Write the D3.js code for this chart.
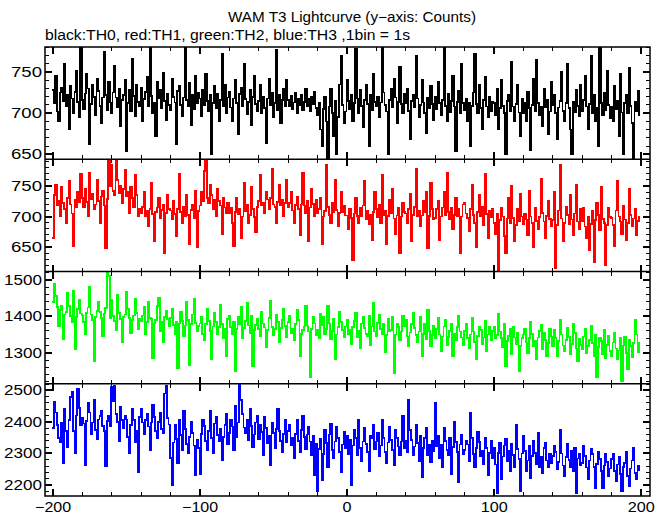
<!DOCTYPE html>
<html><head><meta charset="utf-8">
<script src="https://cdn.jsdelivr.net/npm/d3@7"></script>
<style>body{margin:0;background:#fff}svg{display:block}text{font-family:"Liberation Sans",Arial,Helvetica,sans-serif;fill:#000}</style>
</head><body><svg id="c" width="669" height="515"></svg>
<script>
// ---------- data (1 bin = 1 s, first bin at t = -200 s) ----------
const binStart = -200;
const binSize = 1;

const th0 = [
728,712,745,702,690,725,731,715,760,708,722,680,733,718,700,726,752,714,695,781,
716,705,724,748,730,662,711,735,720,698,742,727,709,688,719,775,722,704,738,713,
700,725,758,719,707,730,684,716,722,740,654,712,729,703,766,721,697,735,714,708,
731,690,717,726,744,709,785,721,700,713,672,738,718,728,706,749,715,692,724,710,
704,742,720,713,662,727,733,710,697,719,780,716,708,737,686,722,705,746,712,725,
718,696,728,710,748,715,703,722,650,712,733,706,724,690,716,772,709,735,700,719,
726,707,690,718,740,712,675,723,731,709,760,717,699,714,728,685,720,745,711,702,
715,734,700,720,706,664,718,742,710,725,695,712,777,704,722,688,716,730,708,740,
716,709,721,705,713,725,700,718,710,722,704,714,730,708,717,702,720,711,726,706,
698,712,680,660,705,720,690,645,708,730,700,672,715,650,695,735,770,710,688,702,
740,715,705,722,690,712,778,718,700,728,709,683,716,735,711,660,722,704,748,714,
708,720,695,713,785,725,710,702,650,716,730,707,742,719,688,714,756,711,700,724,
712,730,703,668,715,722,707,770,718,695,710,740,713,700,676,719,706,733,711,692,
720,705,738,712,698,716,785,709,690,723,701,715,746,708,654,714,727,700,760,712,
704,718,690,712,660,709,725,772,711,700,735,706,680,716,744,708,695,720,703,714,
712,698,730,680,706,740,709,700,650,715,722,703,762,708,690,711,735,701,672,718,
700,713,690,726,706,655,710,742,703,765,712,698,708,684,730,707,716,675,702,738,
710,722,700,668,707,715,750,703,690,712,760,706,680,650,714,701,728,709,696,735,
703,716,745,708,680,711,770,700,722,690,706,660,780,712,698,725,704,752,710,694,
708,690,733,705,715,672,748,701,650,712,722,700,755,709,688,645,714,703,727,698];

const th1 = [
665,735,752,718,726,700,748,722,712,690,730,758,720,705,652,727,715,740,723,770,
730,716,745,724,700,772,728,738,712,720,760,725,690,733,742,718,648,729,792,750,
785,742,735,792,760,738,750,722,745,776,733,740,705,748,730,715,768,735,700,712,
705,716,740,700,710,685,712,755,704,660,708,715,730,698,711,720,640,706,736,712,
710,695,725,704,668,712,770,707,690,716,700,735,703,655,711,720,698,742,650,709,
718,740,725,775,792,730,722,752,735,712,728,700,745,726,718,672,730,715,706,722,
706,715,690,652,708,730,704,712,665,700,755,709,720,690,703,748,712,699,675,716,
725,768,718,722,706,740,728,712,730,778,720,716,690,724,752,719,727,700,722,760,
716,722,740,710,690,719,732,713,670,720,772,718,706,725,660,715,745,721,700,728,
705,712,730,655,700,709,785,716,703,690,722,707,760,711,685,706,740,708,718,702,
702,680,712,698,628,705,730,701,690,714,700,718,758,696,710,688,703,662,708,740,
712,699,720,690,768,703,710,655,701,728,706,745,697,672,702,715,640,700,722,708,
705,690,712,738,660,703,716,778,700,710,685,702,725,708,740,648,701,755,712,696,
698,712,725,662,700,715,740,703,772,708,696,715,680,703,730,701,712,640,700,720,
722,705,698,676,712,752,703,690,650,708,735,700,716,686,770,704,665,710,699,712,
690,672,705,612,694,715,700,668,640,697,730,690,750,698,660,686,712,693,738,700,
688,705,695,670,742,700,690,650,715,693,680,699,762,706,692,665,701,725,696,684,
694,740,615,686,710,785,697,660,690,716,703,688,735,695,670,705,752,692,680,712,
692,715,684,665,700,645,688,710,625,694,722,703,678,748,696,690,620,686,715,699,
698,686,652,710,758,700,692,672,718,695,662,690,745,703,684,697,712,670,693,700];

const th2 = [
1440,1490,1455,1425,1372,1418,1430,1338,1405,1412,1465,1428,1400,1383,1470,1310,1398,1420,1445,1408,
1402,1385,1352,1410,1424,1480,1405,1390,1278,1398,1415,1440,1412,1396,1345,1408,1422,1522,1510,1395,
1445,1400,1388,1362,1460,1410,1392,1330,1398,1405,1468,1420,1396,1355,1390,1402,1448,1410,1365,1394,
1388,1402,1425,1350,1384,1440,1395,1392,1285,1380,1390,1428,1452,1360,1386,1330,1398,1415,1393,1372,
1395,1420,1376,1352,1385,1258,1380,1412,1388,1345,1375,1440,1390,1265,1378,1405,1448,1382,1360,1374,
1380,1398,1352,1335,1378,1420,1388,1360,1282,1372,1410,1385,1350,1370,1432,1378,1340,1366,1290,1392,
1400,1370,1352,1384,1250,1365,1398,1378,1425,1340,1368,1388,1438,1375,1355,1402,1262,1362,1376,1392,
1365,1345,1412,1380,1369,1315,1362,1395,1442,1370,1348,1366,1405,1385,1330,1368,1390,1420,1374,1342,
1385,1402,1355,1366,1335,1378,1418,1390,1292,1352,1362,1372,1428,1375,1358,1232,1365,1398,1380,1348,
1362,1340,1408,1376,1398,1352,1366,1428,1380,1338,1360,1392,1282,1350,1370,1412,1385,1363,1342,1372,
1390,1350,1362,1325,1370,1388,1410,1342,1360,1312,1380,1398,1368,1352,1346,1400,1320,1372,1438,1358,
1345,1382,1405,1365,1352,1378,1302,1348,1392,1360,1362,1398,1245,1350,1378,1370,1336,1358,1402,1372,
1390,1345,1318,1356,1378,1410,1368,1348,1330,1358,1398,1290,1352,1380,1338,1418,1360,1318,1348,1375,
1340,1366,1395,1350,1305,1345,1372,1390,1320,1344,1360,1380,1292,1352,1335,1370,1402,1358,1342,1322,
1360,1378,1340,1312,1350,1395,1358,1330,1282,1346,1370,1362,1325,1342,1388,1305,1350,1370,1335,1360,
1372,1340,1348,1408,1358,1340,1315,1380,1262,1332,1346,1365,1295,1372,1342,1325,1355,1250,1318,1340,
1350,1366,1328,1300,1340,1385,1352,1318,1333,1282,1342,1360,1376,1310,1355,1336,1290,1326,1365,1345,
1318,1362,1340,1292,1332,1390,1350,1320,1305,1336,1368,1344,1295,1325,1380,1355,1312,1278,1338,1322,
1310,1345,1365,1300,1318,1335,1375,1326,1290,1350,1232,1315,1342,1332,1295,1362,1285,1322,1346,1305,
1292,1328,1355,1312,1282,1306,1340,1222,1320,1345,1300,1255,1336,1318,1288,1326,1390,1350,1302,1328];

const th3 = [
2380,2465,2430,2390,2350,2335,2398,2270,2440,2372,2320,2405,2478,2495,2372,2300,2420,2505,2445,2390,
2412,2395,2262,2402,2462,2430,2362,2398,2470,2375,2345,2408,2418,2435,2388,2372,2260,2402,2420,2388,
2510,2465,2515,2425,2400,2340,2448,2405,2380,2420,2408,2352,2300,2390,2440,2405,2335,2372,2240,2415,
2440,2398,2362,2405,2425,2385,2310,2398,2455,2415,2372,2350,2400,2430,2378,2365,2490,2515,2412,2392,
2285,2200,2335,2390,2345,2268,2405,2358,2310,2435,2378,2330,2300,2352,2400,2365,2325,2230,2342,2318,
2235,2362,2405,2388,2340,2310,2372,2435,2350,2300,2395,2415,2358,2338,2378,2280,2352,2390,2425,2330,
2365,2405,2385,2310,2450,2352,2398,2520,2470,2425,2382,2365,2405,2342,2440,2388,2320,2360,2398,2420,
2345,2390,2368,2295,2415,2380,2332,2355,2262,2398,2365,2318,2378,2440,2372,2340,2305,2362,2405,2336,
2372,2390,2325,2348,2285,2362,2405,2340,2305,2375,2420,2352,2315,2360,2385,2338,2295,2355,2230,2330,
2180,2315,2345,2215,2298,2375,2332,2255,2360,2395,2312,2285,2338,2385,2350,2305,2240,2328,2370,2318,
2355,2298,2342,2200,2325,2375,2350,2296,2405,2318,2275,2338,2380,2330,2305,2245,2355,2348,2390,2315,
2338,2365,2290,2325,2405,2350,2305,2268,2335,2385,2342,2312,2262,2375,2350,2322,2295,2338,2420,2318,
2340,2305,2470,2375,2342,2295,2322,2390,2332,2275,2355,2225,2318,2348,2380,2295,2328,2272,2340,2308,
2460,2322,2355,2285,2328,2255,2380,2340,2312,2295,2350,2235,2320,2400,2336,2305,2210,2328,2360,2298,
2312,2340,2328,2275,2430,2350,2298,2255,2318,2370,2336,2290,2308,2265,2350,2318,2230,2302,2340,2285,
2318,2265,2175,2302,2335,2218,2290,2325,2345,2275,2308,2245,2330,2296,2255,2390,2315,2282,2180,2300,
2355,2308,2245,2278,2325,2222,2292,2340,2302,2265,2365,2258,2290,2238,2318,2335,2278,2255,2298,2268,
2292,2325,2305,2250,2272,2375,2300,2262,2228,2288,2330,2280,2255,2308,2245,2318,2175,2284,2298,2262,
2270,2325,2292,2255,2218,2278,2315,2298,2258,2190,2266,2305,2282,2245,2190,2262,2298,2272,2228,2252,
2282,2298,2245,2212,2265,2288,2235,2180,2256,2270,2305,2228,2195,2252,2278,2318,2238,2218,2260,2248];

const xTickLabels = [-200, -100, 0, 100, 200];
const yTicks0 = [650, 700, 750];
const yTicks1 = [650, 700, 750];
const yTicks2 = [1300, 1400, 1500];
const yTicks3 = [2200, 2300, 2400, 2500];
const titleText = "WAM T3 Lightcurve (y\u2212axis: Counts)";
const subtitleText = "black:TH0, red:TH1, green:TH2, blue:TH3 ,1bin = 1s";

// ---------- layout ----------
const L = 45, R = 650, T = 47, B = 496;
const ph = (B - T) / 4;
const panels = [
  {vals: th0, color: "#000000", dom: [644, 780.5], ticks: yTicks0, minor: 10},
  {vals: th1, color: "#ff0000", dom: [610, 794],   ticks: yTicks1, minor: 10},
  {vals: th2, color: "#00ff00", dom: [1215, 1523], ticks: yTicks2, minor: 20},
  {vals: th3, color: "#0000ff", dom: [2165, 2521], ticks: yTicks3, minor: 20}
];

const svg = d3.select("#c");
const x = d3.scaleLinear().domain([-205.5, 206]).range([L, R]);

const defs = svg.append("defs");

svg.append("text").attr("x", 352).attr("y", 22).attr("text-anchor", "middle")
  .attr("font-size", 14).attr("textLength", 248).attr("lengthAdjust", "spacingAndGlyphs").text(titleText);
svg.append("text").attr("x", 45).attr("y", 40)
  .attr("font-size", 14).attr("textLength", 365).attr("lengthAdjust", "spacingAndGlyphs").text(subtitleText);

function fmt(v) { return (v < 0 ? "\u2212" : "") + Math.abs(v); }

panels.forEach((p, i) => {
  const top = T + i * ph, bot = top + ph;
  const y = d3.scaleLinear().domain(p.dom).range([bot, top]);
  const cid = "clip" + i;
  defs.append("clipPath").attr("id", cid).append("rect")
    .attr("x", L).attr("y", top).attr("width", R - L).attr("height", ph);

  // histogram steps: each bin spans [t-0.5, t+0.5]
  const pts = p.vals.map((v, k) => ({t: binStart + k * binSize - binSize / 2, v}));
  pts.push({t: binStart + (p.vals.length - 1) * binSize + binSize / 2, v: p.vals[p.vals.length - 1]});
  const line = d3.line().x(d => x(d.t)).y(d => y(d.v)).curve(d3.curveStepAfter);
  svg.append("path").attr("d", line(pts)).attr("fill", "none")
    .attr("stroke", p.color).attr("stroke-width", 1.7).attr("shape-rendering", "crispEdges")
    .attr("clip-path", `url(#${cid})`);

  const g = svg.append("g").attr("stroke", "#000").attr("shape-rendering", "crispEdges");
  const yMinor = d3.range(Math.ceil(p.dom[0] / p.minor) * p.minor, p.dom[1], p.minor);
  yMinor.forEach(v => {
    const isMaj = p.ticks.includes(v);
    const len = isMaj ? 7 : 4, w = isMaj ? 2 : 1;
    g.append("line").attr("x1", L).attr("x2", L + len).attr("y1", y(v)).attr("y2", y(v)).attr("stroke-width", w);
    g.append("line").attr("x1", R).attr("x2", R - len).attr("y1", y(v)).attr("y2", y(v)).attr("stroke-width", w);
  });
  d3.range(-200, 201, 20).forEach(t => {
    const isMaj = t % 100 === 0;
    const len = isMaj ? 7 : 4, w = isMaj ? 2 : 1;
    g.append("line").attr("x1", x(t)).attr("x2", x(t)).attr("y1", top).attr("y2", top + len).attr("stroke-width", w);
    g.append("line").attr("x1", x(t)).attr("x2", x(t)).attr("y1", bot).attr("y2", bot - len).attr("stroke-width", w);
  });
  p.ticks.forEach(v => {
    const s = String(v);
    svg.append("text").attr("x", 42).attr("y", y(v) + 5).attr("text-anchor", "end")
      .attr("font-size", 14).attr("textLength", s.length === 3 ? 31 : 38)
      .attr("lengthAdjust", "spacingAndGlyphs").text(s);
  });
});

const fr = svg.append("g").attr("stroke", "#000").attr("fill", "none").attr("stroke-width", 1.5);
fr.append("rect").attr("x", L).attr("y", T).attr("width", R - L).attr("height", B - T);
for (let i = 1; i < 4; i++) {
  fr.append("line").attr("x1", L).attr("x2", R).attr("y1", T + i * ph).attr("y2", T + i * ph);
}

xTickLabels.forEach(t => {
  const s = fmt(t);
  svg.append("text").attr("x", x(t)).attr("y", 512).attr("text-anchor", "middle")
    .attr("font-size", 14).attr("textLength", s.length * 9)
    .attr("lengthAdjust", "spacingAndGlyphs").text(s);
});
</script></body></html>
